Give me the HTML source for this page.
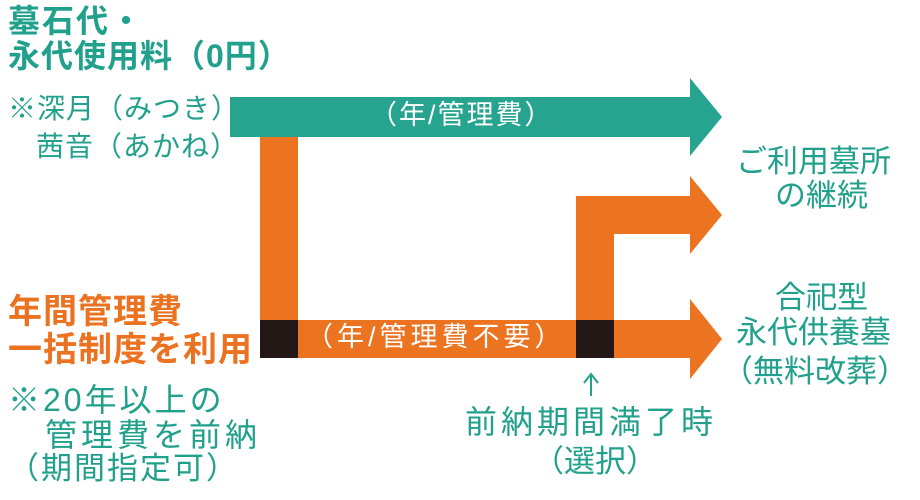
<!DOCTYPE html>
<html><head><meta charset="utf-8"><style>
html,body{margin:0;padding:0;background:#fff;}
body{width:920px;height:500px;position:relative;overflow:hidden;font-family:"Liberation Sans","Noto Sans CJK JP",sans-serif;}
.t{position:absolute;white-space:nowrap;line-height:1;}
.teal{color:#21a08c;}
.or{color:#eb7220;font-weight:bold;}
.b{font-weight:bold;}
</style></head><body>
<svg width="920" height="500" style="position:absolute;left:0;top:0">
  <polygon points="230,97 690,97 690,78 722,117 690,156 690,137 230,137" fill="#26a48f"/>
  <rect x="260" y="137" width="38" height="221" fill="#ec7320"/>
  <polygon points="260,320 690,320 690,299 722,339 690,379 690,358 260,358" fill="#ec7320"/>
  <rect x="576" y="196" width="38" height="130" fill="#ec7320"/>
  <polygon points="576,196 690,196 690,176 722,215 690,254 690,234 576,234" fill="#ec7320"/>
  <rect x="260" y="320" width="38" height="38" fill="#231815"/>
  <rect x="576" y="320" width="38" height="38" fill="#231815"/>
  <line x1="591" y1="376" x2="591" y2="396" stroke="#21a08c" stroke-width="2"/>
  <polyline points="584,383 591,374 598,383" fill="none" stroke="#21a08c" stroke-width="2"/>
</svg>
<div class="t" style="left:370px;top:102px;font-size:27px;letter-spacing:2px;color:#fff;">（年/管理費）</div>
<div class="t" style="left:306px;top:324px;font-size:27px;letter-spacing:4px;color:#fff;">（年/管理費不要）</div>

<div class="t teal b" style="left:8px;top:5px;font-size:32px;letter-spacing:2px;">墓石代・</div>
<div class="t teal b" style="left:8px;top:40px;font-size:32px;letter-spacing:1px;">永代使用料（0円）</div>
<div class="t teal" style="left:8px;top:95px;font-size:28px;letter-spacing:1px;">※深月（みつき）</div>
<div class="t teal" style="left:36px;top:133px;font-size:28px;letter-spacing:1px;">茜音（あかね）</div>

<div class="t or" style="left:8px;top:295px;font-size:34px;letter-spacing:1px;">年間管理費</div>
<div class="t or" style="left:8px;top:333px;font-size:34px;letter-spacing:1px;">一括制度を利用</div>
<div class="t teal" style="left:8px;top:384px;font-size:32px;letter-spacing:3px;">※20年以上の</div>
<div class="t teal" style="left:45px;top:419px;font-size:32px;letter-spacing:4px;">管理費を前納</div>
<div class="t teal" style="left:8px;top:453px;font-size:31px;letter-spacing:2px;">（期間指定可）</div>

<div class="t teal" style="left:736px;top:146px;font-size:31px;">ご利用墓所</div>
<div class="t teal" style="left:775px;top:180px;font-size:31px;">の継続</div>
<div class="t teal" style="left:775px;top:282px;font-size:31px;">合祀型</div>
<div class="t teal" style="left:736px;top:317px;font-size:31px;">永代供養墓</div>
<div class="t teal" style="left:722px;top:356px;font-size:31px;">（無料改葬）</div>

<div class="t teal" style="left:465px;top:406px;font-size:32px;letter-spacing:4px;">前納期間満了時</div>
<div class="t teal" style="left:533px;top:446px;font-size:31px;">（選択）</div>
</body></html>
